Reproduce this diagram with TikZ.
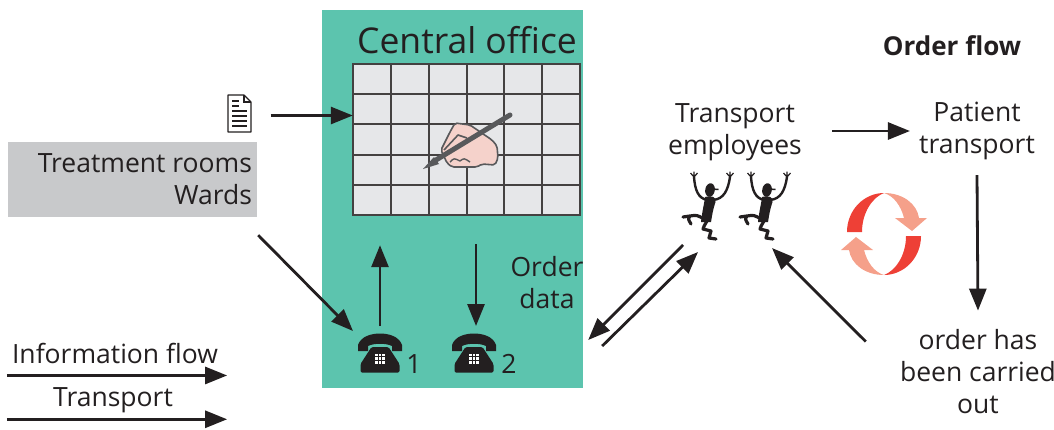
\documentclass[tikz,border=0pt]{standalone}
\usepackage{fontspec}
\setmainfont{Open Sans}
\usetikzlibrary{arrows.meta,calc}

\definecolor{ink}{HTML}{231F20}
\definecolor{office}{HTML}{5CC4AE}
\definecolor{wardgray}{HTML}{C8C9CB}
\definecolor{cell}{HTML}{E6E7E9}
\definecolor{pengray}{HTML}{58595B}
\definecolor{skin}{HTML}{F5D2CB}
\definecolor{cyclered}{HTML}{EE4036}
\definecolor{cyclepink}{HTML}{F5A08A}

\tikzset{
  flow/.style={draw=ink, line width=2.8pt, -{Triangle[length=22pt,width=17pt]}},
  txt/.style={font=\fontsize{26.5}{32}\selectfont, text=ink, align=center, inner sep=0pt},
  gridline/.style={draw=ink!85, line width=2pt},
}

% telephone icon, centred on #1
\newcommand{\telephone}[1]{%
  \begin{scope}[shift={(#1)}]
    \fill[ink] (-22,-2) -- (-22,-8) .. controls (-19,-17) and (-8,-19.5) .. (0,-19.5)
      .. controls (8,-19.5) and (19,-17) .. (22,-8) -- (22,-2) -- (12,-2) -- (12,-7)
      .. controls (6,-10) and (-6,-10) .. (-12,-7) -- (-12,-2) -- cycle;
    \fill[ink, rounded corners=1.5pt] (-8.5,-6) -- (8.5,-6) -- (19.5,11) -- (19.5,19.5) -- (-19.5,19.5) -- (-19.5,11) -- cycle;
    \foreach \u in {-3.6,0,3.6}
      \foreach \v in {2,5.6,9.2}
        \fill[white] (\u-1.3,\v-1.3) rectangle (\u+1.3,\v+1.3);
  \end{scope}}

% little dancing man, head at #1
\newcommand{\dancer}[1]{%
  \begin{scope}[shift={(#1)}]
    \fill[ink, rotate=-10] (0,0) ellipse[x radius=4.8, y radius=6.8];
    \draw[ink, line width=1.5pt] (2.5,-1) -- (8.5,-0.5);
    \fill[ink] (-5,7) .. controls (1,5) and (7,7) .. (5.5,12) .. controls (3,19) and (2,26) .. (1,32)
      -- (-9,32) .. controls (-8,22) and (-6,15) .. (-5,7) -- cycle;
    \draw[ink, line width=2.4pt, line cap=round] (-3,10) .. controls (-12,8) and (-15,0) .. (-16,-13);
    \draw[ink, line width=2.4pt, line cap=round] (3,10) .. controls (14,9) and (18,0) .. (20,-13);
    \foreach \hx/\hy in {-16/-13, 20/-13}
      \draw[ink, line width=1.2pt] (\hx,\hy) -- ++(-3.5,-4) (\hx,\hy) -- ++(0,-5.5) (\hx,\hy) -- ++(3.5,-4);
    \draw[ink, line width=3.2pt, line cap=round, line join=round]
      (-6,29) .. controls (-13,25) .. (-20,26) .. controls (-22,29) .. (-19,34) (-20,26) -- (-27,27);
    \draw[ink, line width=3.2pt, line cap=round, line join=round]
      (-3,31) .. controls (-6,36) .. (-7,39) -- (1,41) .. controls (0,45) .. (-1,48) -- (6,49);
  \end{scope}}

\begin{document}
\begin{tikzpicture}[x=1pt, y=-1pt]
  \useasboundingbox (0,0) rectangle (1054,429);

  % central office with its plan board
  \node[fill=office, minimum width=261pt, minimum height=378pt, inner sep=0pt] (office) at (452.5,199) {};
  \node[txt, font=\fontsize{35.5}{40}\selectfont] (title) at (467,40) {Central office};
  \node[minimum width=227pt, minimum height=151pt, inner sep=0pt] (grid) at (466.5,139.5) {};
  \fill[cell] (grid.north west) rectangle (grid.south east);
  \foreach \i in {1,...,5}
    \draw[gridline] ($(grid.north west)!\i/6!(grid.north east)$) -- ($(grid.south west)!\i/6!(grid.south east)$);
  \foreach \j in {1,...,4}
    \draw[gridline] ($(grid.north west)!\j/5!(grid.south west)$) -- ($(grid.north east)!\j/5!(grid.south east)$);
  \draw[gridline, line width=2.5pt] (grid.north west) rectangle (grid.south east);

  % writing hand
  \filldraw[fill=skin, draw=pengray, line width=1.6pt, rounded corners=2pt]
    (455,123) -- (470,125) -- (492,140) -- (497,146) -- (498,158) -- (495,165) -- (482,164)
    -- (477,167) -- (462,167) -- (452,167) -- (447,163) -- (441,150) -- (445,142) -- (450,132) -- cycle;
  \draw[pengray, line width=1.6pt, line join=round] (444,150) -- (458,135) -- (467,138);
  \draw[pengray, line width=1.4pt] (450,162) .. controls (454,158) .. (460,161) (460,161) .. controls (464,158) .. (470,162);
  \draw[pengray, line width=5pt, line cap=round] (436,160) -- (510,115);
  \fill[pengray] (423,169) -- (434,157) -- (439,164) -- cycle;

  % telephones
  \coordinate (phone1) at (380,353);
  \coordinate (phone2) at (474,353);
  \telephone{phone1}
  \telephone{phone2}
  \node[txt] (one) at ($(phone1)+(34,11)$) {1};
  \node[txt] (two) at ($(phone2)+(35,11)$) {2};
  \node[txt] (orderdata) at (547,283) {Order\\data};

  % wards
  \node[fill=wardgray, minimum width=249pt, minimum height=75pt, inner sep=0pt] (wards) at (132.5,179.5) {};
  \node[txt, align=right, anchor=east] (wardtext) at ($(wards.east)+(-5,0)$) {Treatment rooms\\Wards};
  \node[minimum width=24pt, minimum height=37pt, inner sep=0pt] (doc) at (239.5,113.5) {};
  \begin{scope}[shift={(doc.center)}]
    \filldraw[fill=white, draw=ink, line width=1.2pt, line join=round]
      (-11.5,-18.5) -- (4.5,-18.5) -- (11.5,-11.5) -- (11.5,18.5) -- (-11.5,18.5) -- cycle;
    \draw[ink, line width=1.2pt] (4.5,-18.5) -- (4.5,-11.5) -- (11.5,-11.5);
    \foreach \y in {-12.5,-7.5}
      \draw[ink, line width=1.2pt] (-7.5,\y) -- (-0.5,\y);
    \foreach \y in {-2.5,2.5,7.5,12.5}
      \draw[ink, line width=1.2pt] (-7.5,\y) -- (7.5,\y);
  \end{scope}

  % transport side
  \node[txt] (staff) at (735,132) {Transport\\employees};
  \coordinate (fig1) at (710,190);
  \coordinate (fig2) at (767,190);
  \dancer{fig1}
  \dancer{fig2}
  \node[txt, font=\bfseries\fontsize{26}{30}\selectfont] (orderflow) at (952,46) {Order flow};
  \node[txt] (patient) at (977,131) {Patient\\transport};
  \node[txt] (done) at (978,372) {order has\\been carried\\out};

  % order cycle
  \foreach \a in {0,180} {
    \begin{scope}[rotate around={\a:(884,234)}]
      \fill[cyclered] (847,232) .. controls (847,210) and (864,193) .. (884,193)
        .. controls (873,197) and (862,212) .. (862,232) -- cycle;
      \fill[cyclepink] (884,193) .. controls (903,193) and (917,204) .. (919,218) -- (927,218)
        -- (912,231) -- (895,218) -- (904,218) .. controls (901,206) and (894,196) .. (884,193) -- cycle;
    \end{scope}
  }

  % legend
  \node[txt] (info) at (115,353) {Information flow};
  \node[txt] (trans) at (113,400) {Transport};

  % arrows
  \draw[flow] ($(doc.east)+(19,2)$) -- ($(doc.east -| grid.west)+(0,2)$);
  \draw[flow] ($(wards.south east)+(1,18)$) -- ($(phone1)+(-27,-22)$);
  \draw[flow] ($(phone1)+(0,-27)$) -- ($(grid.south -| phone1)+(0,30)$);
  \draw[flow] ($(grid.south -| phone2)+(2,29)$) -- ($(phone2)+(2,-27)$);
  \draw[flow] ($(fig1)+(-27,55)$) -- ($(office.east)+(5,141)$);
  \draw[flow] ($(office.east)+(19,147)$) -- ($(fig1)+(-12,62)$);
  \draw[flow] ($(done.north west)+(-34,12)$) -- ($(fig2)+(5,58)$);
  \draw[flow] ($(staff.east)+(30,-1)$) -- ($(staff.east -| patient.west)+(-9,-1)$);
  \draw[flow] ($(patient.south)+(0,15)$) -- ($(done.north)+(0,-19)$);
  \draw[flow] ($(info.south west)+(-5,12)$) -- ($(info.south east)+(9,12)$);
  \draw[flow] ($(trans.base -| info.west)+(-5,13)$) -- ($(trans.base -| info.east)+(9,13)$);
\end{tikzpicture}
\end{document}
